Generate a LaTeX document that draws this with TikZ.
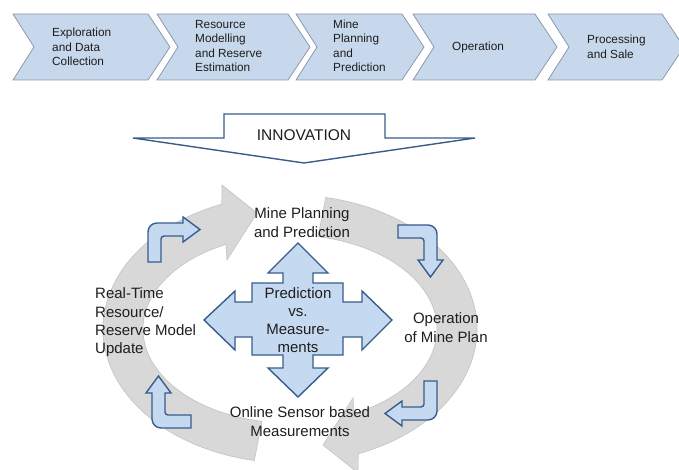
\documentclass[tikz,border=0pt]{standalone}
\usepackage{fontspec}
\setmainfont{Liberation Sans}
\definecolor{chevfill}{RGB}{199,215,236}
\definecolor{chevline}{RGB}{140,152,170}
\definecolor{boxfill}{RGB}{197,217,241}
\definecolor{boxline}{RGB}{56,93,138}
\definecolor{ringfill}{RGB}{216,216,216}
\definecolor{ringline}{RGB}{195,195,195}
\definecolor{ink}{RGB}{30,30,30}
\newcommand{\stagefont}{\fontsize{11.8}{14.5}\selectfont}
\newcommand{\cyclefont}{\fontsize{15}{19}\selectfont}

\tikzset{bent/.pic={
    \draw[bluebox] (0,39) -- (0,9) arc[start angle=180, end angle=270, radius=9]
        -- (35,0) -- (35,-6) -- (52,6.5) -- (35,19) -- (35,13) -- (16,13)
        arc[start angle=270, end angle=180, radius=3] -- (13,39) -- cycle;
}}

\begin{document}
\begin{tikzpicture}[x=1pt,y=-1pt]
                        \tikzstyle{chev}=[fill=chevfill,draw=chevline,line width=0.8pt]
                        \tikzstyle{bluebox}=[fill=boxfill,draw=boxline,line width=1.4pt,line join=miter]
                        \tikzstyle{ring}=[fill=ringfill,draw=ringline,line width=0.6pt]
                        \tikzstyle{stage}=[font=\stagefont,text=ink,align=left,inner sep=0pt]
                        \tikzstyle{phase}=[font=\cyclefont,text=ink,align=center,inner sep=0pt]
                        \useasboundingbox (0,0) rectangle (679,470);
                        \foreach \l/\r in {13/148,157/288,296/402,413/535,548/662}
                            \draw[chev] (\l,14) -- (\r,14) -- (\r+22,47) -- (\r,80) -- (\l,80) -- (\l+21,47) -- cycle;
                        \node[stage,anchor=west] (explo) at (52,47) {Exploration\\and Data\\Collection};
                        \node[stage,anchor=west] (model) at (195,46) {Resource\\Modelling\\and Reserve\\Estimation};
                        \node[stage,anchor=west] (plan) at (333,46) {Mine\\Planning\\and\\Prediction};
                        \node[stage] (oper) at (478,47) {Operation};
                        \node[stage,anchor=west] (sale) at (587,47) {Processing\\and Sale};
                        \draw[fill=white,draw=boxline,line width=1.4pt] (224,114) -- (385,114) -- (385,138) -- (475,138)
                            -- (304,163) -- (133,138) -- (224,138) -- cycle;
                        \node[font=\fontsize{15.5}{18}\selectfont,text=ink,inner sep=0pt] (innov) at (304,135) {INNOVATION};
                        \draw[ring] (254.3,460.5) arc[start angle=101, end angle=248.6, x radius=187, y radius=134]
                            -- (222,185) -- (257,213) -- (227,260) -- (226.0,244.4)
                            arc[start angle=244.2, end angle=101, x radius=147, y radius=94] -- cycle;
                        \draw[ring] (325.7,197.5) arc[start angle=281, end angle=428.6, x radius=187, y radius=134]
                            -- (358,473) -- (323,445) -- (353,398) -- (354.0,413.6)
                            arc[start angle=424.2, end angle=281, x radius=147, y radius=94] -- cycle;
                        \pic at (148,223) {bent};
                        \pic[rotate=-90] at (437,225) {bent};
                        \pic[rotate=180] at (437,420) {bent};
                        \pic[rotate=90] at (152,428) {bent};
                        \draw[bluebox] (298,243) -- (328,273) -- (313,273) -- (313,283) -- (343,283) -- (343,302)
                            -- (362,302) -- (362,291) -- (392,320) -- (362,350) -- (362,337) -- (343,337)
                            -- (343,355) -- (313,355) -- (313,368) -- (328,368) -- (298,397) -- (268,368)
                            -- (283,368) -- (283,355) -- (252,355) -- (252,337) -- (235,337) -- (235,350)
                            -- (204,320) -- (235,291) -- (235,302) -- (252,302) -- (252,283) -- (283,283)
                            -- (283,273) -- (268,273) -- cycle;
                        \node[phase,font=\fontsize{15}{18}\selectfont] (predvs) at (298,320) {Prediction\\vs.\\Measure-\\ments};
                        \node[phase] (mineplan) at (302,223) {Mine Planning\\and Prediction};
                        \node[phase] (operplan) at (446,328) {Operation\\of Mine Plan};
                        \node[phase] (sensor) at (300,422) {Online Sensor based\\Measurements};
                        \node[phase,align=left,anchor=west,font=\fontsize{15}{18.3}\selectfont] (update) at (95,322.5) {Real-Time\\Resource/\\Reserve Model\\Update};
\end{tikzpicture}
\end{document}
